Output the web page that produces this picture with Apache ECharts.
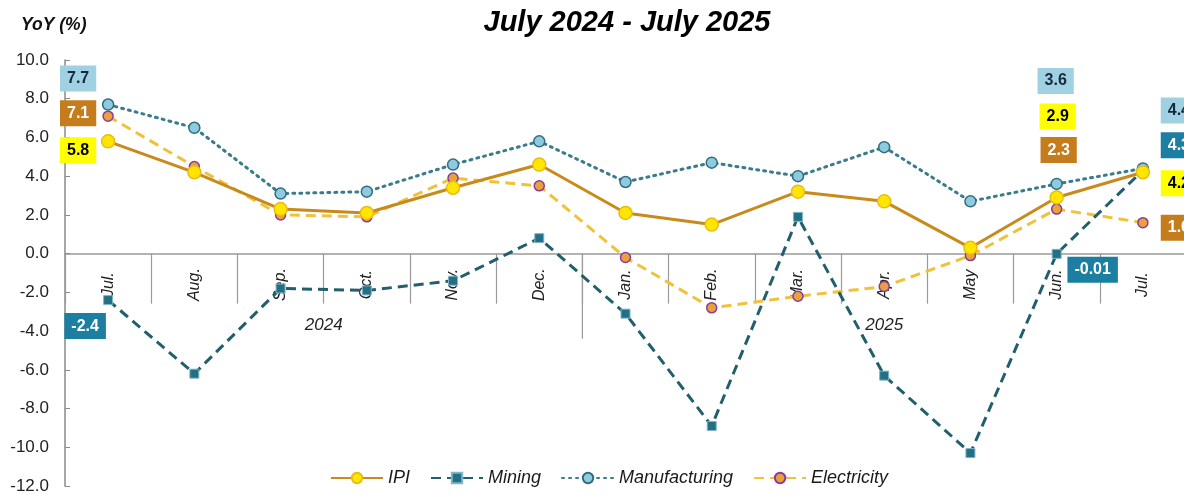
<!DOCTYPE html>
<html>
<head>
<meta charset="utf-8">
<script src="https://cdn.jsdelivr.net/npm/echarts@6/dist/echarts.min.js"></script>
<style>
html,body{margin:0;padding:0;background:#fff;}
#c{width:1184px;height:495px;}
</style>
</head>
<body>
<div id="c"></div>
<script>
const categories = ['Jul.','Aug.','Sep.','Oct.','Nov.','Dec.','Jan.','Feb.','Mar.','Apr.','May','Jun.','Jul.'];
const yearLabels = ['2024','2025'];
const yearStartIndex = [0, 6];
const yearEndIndex = [5, 12];
const ipi = [5.8,4.2,2.3,2.1,3.4,4.6,2.1,1.5,3.2,2.7,0.3,2.9,4.2];
const mining = [-2.4,-6.2,-1.8,-1.9,-1.4,0.8,-3.1,-8.9,1.9,-6.3,-10.3,-0.01,4.3];
const manufacturing = [7.7,6.5,3.1,3.2,4.6,5.8,3.7,4.7,4.0,5.5,2.7,3.6,4.4];
const electricity = [7.1,4.5,2.0,1.9,3.9,3.5,-0.2,-2.8,-2.2,-1.7,-0.1,2.3,1.6];
const seriesNames = ['IPI','Mining','Manufacturing','Electricity'];
const yMin = -12, yMax = 10, yStep = 2;

const FONT = "'Liberation Sans', Arial, sans-serif";

const boxStyle = {
  IPI: {bg:'#ffff00', fg:'#000000'},
  Mining: {bg:'#1c7fa1', fg:'#ffffff'},
  Manufacturing: {bg:'#9fd1e3', fg:'#17283a'},
  Electricity: {bg:'#c47c1c', fg:'#ffffff'}
};
const boxOffsets = {
  IPI: {0:[-30,9], 11:[1,-81], 12:[36,11]},
  Mining: {0:[-23,26], 11:[36,16], 12:[36,-25]},
  Manufacturing: {0:[-30,-26], 11:[-1,-103], 12:[36,-58]},
  Electricity: {0:[-30,-3], 11:[2,-59], 12:[36,5]}
};

function buildData(name, values){
  return values.map((v,i)=>{
    const off = boxOffsets[name][i];
    if(!off) return v;
    const st = boxStyle[name];
    return {value:v, label:{show:true, position:'inside', offset:off,
      formatter: String(v), align:'center', verticalAlign:'middle',
      backgroundColor: st.bg, color: st.fg, fontFamily: FONT, fontSize:16, fontWeight:'bold',
      padding:[5,7,4,7], lineHeight:17}};
  });
}

const gridTop = 60, gridHeight = 426;
const zeroOffset = -gridHeight * (0 - yMin) / (yMax - yMin);

const chart = echarts.init(document.getElementById('c'));
const option = {
  animation:false,
  backgroundColor:'#ffffff',
  title:{text:'July 2024 - July 2025', left:622, textAlign:'center', top:3,
    textStyle:{fontFamily:FONT, fontSize:29, fontWeight:'bold', fontStyle:'italic', color:'#000'}},
  grid:{left:65, top:gridTop, width:1121, height:gridHeight, containLabel:false, outerBoundsMode:'none'},
  legend:{
    data:seriesNames, top:464, left:325, itemWidth:52, itemHeight:13, itemGap:20,
    textStyle:{fontFamily:FONT, fontSize:18, fontStyle:'italic', color:'#1a1a1a'}
  },
  xAxis:{
    type:'category', data:categories, boundaryGap:true, position:'bottom', offset:zeroOffset,
    axisLine:{onZero:false, lineStyle:{color:'#9a9a9a', width:1.5}},
    axisTick:{show:true, interval:0, length:50, lineStyle:{color:'#9a9a9a', width:1.2}},
    axisLabel:{interval:0, rotate:90, margin:31, align:'center', verticalAlign:'middle',
      fontFamily:FONT, fontSize:16, fontStyle:'italic', color:'#222'},
    splitLine:{show:false}
  },
  yAxis:{
    type:'value', min:yMin, max:yMax, interval:yStep,
    name:'YoY (%)', nameLocation:'end', nameGap:26,
    nameTextStyle:{fontFamily:FONT, fontSize:17.5, fontWeight:'bold', fontStyle:'italic', color:'#111', align:'left', padding:[0,0,0,-44]},
    axisLine:{show:true, lineStyle:{color:'#8a8a8a', width:1.5}},
    axisTick:{show:true, inside:true, length:5, lineStyle:{color:'#8a8a8a'}},
    axisLabel:{margin:16, fontFamily:FONT, fontSize:17, color:'#222', formatter:v=>v.toFixed(1)},
    splitLine:{show:false}
  },
  series:[
    {name:'IPI', type:'line', data:buildData('IPI', ipi), z:4,
      symbol:'circle', symbolSize:13,
      lineStyle:{color:'#c98a1c', width:3},
      itemStyle:{color:'#ffe500', borderColor:'#e8bd10', borderWidth:1.5}},
    {name:'Mining', type:'line', data:buildData('Mining', mining), z:3,
      symbol:'rect', symbolSize:9,
      lineStyle:{color:'#215f6e', width:3, type:[10,6]},
      itemStyle:{color:'#236f85', borderColor:'#7fb6c8', borderWidth:1}},
    {name:'Manufacturing', type:'line', data:buildData('Manufacturing', manufacturing), z:2,
      symbol:'circle', symbolSize:11,
      lineStyle:{color:'#3a7c8c', width:3, type:[2,5], cap:'round'},
      itemStyle:{color:'#8fcbe0', borderColor:'#2f6d7e', borderWidth:1.5}},
    {name:'Electricity', type:'line', data:buildData('Electricity', electricity), z:2,
      symbol:'circle', symbolSize:10,
      lineStyle:{color:'#f0c23c', width:3, type:[10,6]},
      itemStyle:{color:'#e9a23a', borderColor:'#8b3a9e', borderWidth:1.5}}
  ]
};
chart.setOption(option);

const zeroY = chart.convertToPixel({yAxisIndex:0}, 0);
const catX = categories.map((c,i)=>chart.convertToPixel({xAxisIndex:0}, i));
const step = catX[1]-catX[0];
const graphics = [];
yearLabels.forEach((yl,k)=>{
  const x0 = catX[yearStartIndex[k]] - step/2;
  const x1 = catX[yearEndIndex[k]] + step/2;
  graphics.push({type:'text', x:(x0+x1)/2, y:zeroY+72, style:{text:yl, fill:'#222',
    font:"italic 17px 'Liberation Sans', Arial, sans-serif", textAlign:'center', textVerticalAlign:'middle'}});
});
const divX = catX[yearStartIndex[1]] - step/2;
graphics.push({type:'line', shape:{x1:divX, y1:zeroY, x2:divX, y2:zeroY+85}, style:{stroke:'#9a9a9a', lineWidth:1.2}});
chart.setOption({graphic:graphics});
</script>
</body>
</html>
